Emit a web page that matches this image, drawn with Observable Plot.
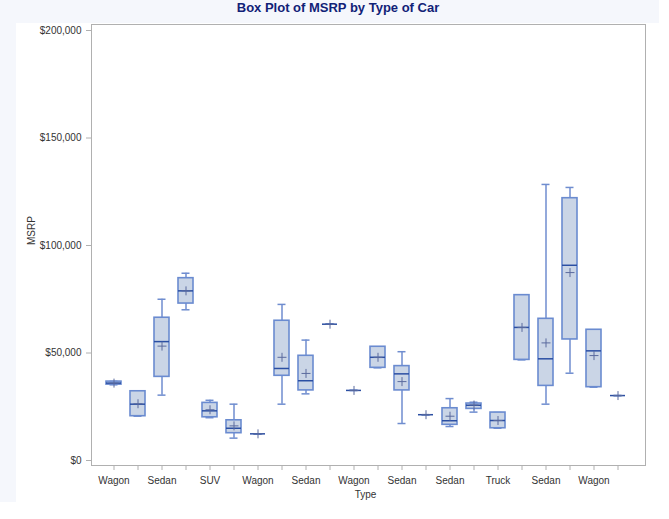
<!DOCTYPE html>
<html>
<head>
<meta charset="utf-8">
<script src="https://cdn.jsdelivr.net/npm/d3@7"></script>
<script src="https://cdn.jsdelivr.net/npm/@observablehq/plot@0.6"></script>
<style>
  body { margin: 0; background: #ffffff; font-family: "Liberation Sans", Arial, sans-serif; }
  #title { box-sizing: border-box; width: 659px; height: 23px; background: #F5F7FC; color: #112277;
           font-weight: bold; font-size: 13px; line-height: 15px; text-align: center; padding-left: 17px; }
  #row { display: flex; }
  #leftband { width: 16px; height: 479px; background: #F5F7FC; flex: none; }
</style>
</head>
<body>
<div id="title">Box Plot of MSRP by Type of Car</div>
<div id="row"><div id="leftband"></div><div id="chart"></div></div>
<script>
// Tick labels (every other category is labelled in the reference)
const tickLabels = ["Wagon","","Sedan","","SUV","","Wagon","","Sedan","","Wagon","","Sedan","","Sedan","","Truck","","Sedan","","Wagon",""];
// Box statistics per category (MSRP, $)
const whiskerLow  = [35200, 20600, 30400, 70100, 19900, 10400, 12400, 26200, 31000, 63400, 32600, 43100, 17200, 21300, 15800, 22500, 15000, 46800, 26200, 40600, 34100, 30200];
const quartile1   = [35300, 20600, 38900, 73000, 20100, 12700, 12400, 39400, 32600, 63400, 32600, 43100, 32600, 21300, 16600, 24000, 15000, 46800, 34700, 56300, 34100, 30200];
const medians     = [36000, 26200, 55300, 78900, 23100, 15000, 12400, 42800, 37100, 63400, 32600, 48000, 40300, 21300, 18500, 25700, 18600, 61900, 47300, 90800, 51000, 30200];
const quartile3   = [36700, 32200, 66400, 84800, 26800, 18700, 12400, 65000, 48700, 63400, 32600, 52900, 43900, 21300, 24300, 26500, 22300, 76900, 65900, 122000, 60800, 30200];
const whiskerHigh = [36800, 32200, 75000, 87100, 28000, 26200, 12400, 72600, 56000, 63400, 32600, 52900, 50600, 21300, 28800, 27100, 22300, 76900, 128400, 127000, 60800, 30200];
const means       = [36000, 26400, 53200, 78900, 23600, 16100, 12400, 48000, 40500, 63400, 32600, 48000, 36700, 21300, 20600, 25800, 18600, 61900, 54700, 87400, 48800, 30200];
const yTicks = [0, 50000, 100000, 150000, 200000];

const rows = tickLabels.map((t, i) => ({
  i, low: whiskerLow[i], q1: quartile1[i], med: medians[i], q3: quartile3[i], high: whiskerHigh[i], mean: means[i]
}));

const gray = "#B0B0B0";
const whisker = "#6F8DCF";

const chart = Plot.plot({
  width: 653,
  height: 496,
  marginTop: 1,
  marginBottom: 54,
  marginLeft: 75,
  marginRight: 24,
  style: { fontFamily: "'Liberation Sans', Arial, sans-serif", fontSize: "10px", color: "#333", background: "#ffffff", overflow: "visible" },
  x: { type: "band", domain: d3.range(tickLabels.length), paddingInner: 0.357, paddingOuter: 0, insetLeft: 5, insetRight: 10 },
  y: { domain: [0, 200000], insetTop: 6, insetBottom: 5 },
  marks: [
    Plot.frame({ stroke: gray }),
    Plot.axisY({ ticks: yTicks, tickFormat: d3.format("$,"), tickSize: 5, tickPadding: 5, stroke: gray, fill: "#333", label: null }),
    Plot.axisX({ tickFormat: i => tickLabels[i], tickSize: 5, tickPadding: 6, stroke: gray, fill: "#333", label: null }),
    Plot.ruleX(rows, { x: "i", y1: "low", y2: "q1", stroke: whisker, strokeWidth: 1.5 }),
    Plot.ruleX(rows, { x: "i", y1: "q3", y2: "high", stroke: whisker, strokeWidth: 1.5 }),
    Plot.tickY(rows, { x: "i", y: "low", insetLeft: 3.5, insetRight: 3.5, stroke: whisker, strokeWidth: 1.5 }),
    Plot.tickY(rows, { x: "i", y: "high", insetLeft: 3.5, insetRight: 3.5, stroke: whisker, strokeWidth: 1.5 }),
    Plot.barY(rows, { x: "i", y1: "q1", y2: "q3", fill: "#CAD5E6", stroke: "#6A8BD0", strokeWidth: 1.6 }),
    Plot.tickY(rows, { x: "i", y: "med", stroke: "#2B4FA3", strokeWidth: 1.5 }),
    Plot.dot(rows, { x: "i", y: "mean", symbol: "plus", r: 3, stroke: "#5A6A9E", strokeWidth: 1 }),
    Plot.text(["MSRP"], { frameAnchor: "left", text: d => d, rotate: -90, dx: -59.5, fill: "#333", fontSize: 10 }),
    Plot.text(["Type"], { frameAnchor: "bottom", text: d => d, dy: 32.5, dx: -3, fill: "#333", fontSize: 10 })
  ]
});
document.getElementById("chart").appendChild(chart);
</script>
</body>
</html>
